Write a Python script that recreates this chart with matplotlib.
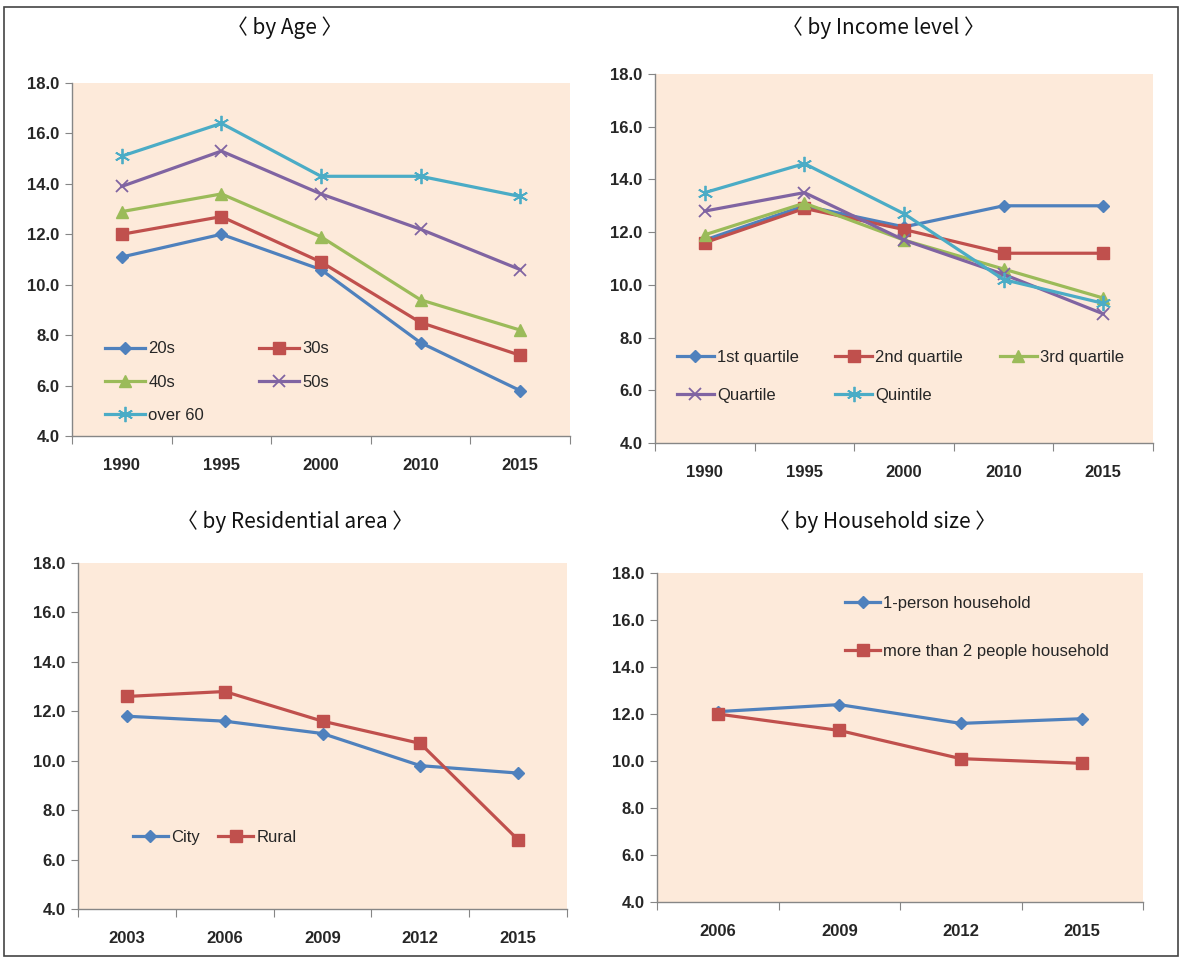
import matplotlib
matplotlib.use("Agg")
from matplotlib import pyplot as plt
from matplotlib.patches import Rectangle

plt.rcParams['font.family'] = ['Liberation Sans', 'DejaVu Sans']

# ---- data ----
AGE_YEARS = ["1990", "1995", "2000", "2010", "2015"]
AGE_20S = [11.1, 12.0, 10.6, 7.7, 5.8]
AGE_30S = [12.0, 12.7, 10.9, 8.5, 7.2]
AGE_40S = [12.9, 13.6, 11.9, 9.4, 8.2]
AGE_50S = [13.9, 15.3, 13.6, 12.2, 10.6]
AGE_60 = [15.1, 16.4, 14.3, 14.3, 13.5]

INC_YEARS = ["1990", "1995", "2000", "2010", "2015"]
INC_Q1 = [11.7, 13.0, 12.2, 13.0, 13.0]
INC_Q2 = [11.6, 12.9, 12.1, 11.2, 11.2]
INC_Q3 = [11.9, 13.1, 11.7, 10.6, 9.5]
INC_QUART = [12.8, 13.5, 11.7, 10.4, 8.9]
INC_QUINT = [13.5, 14.6, 12.7, 10.2, 9.3]

RES_YEARS = ["2003", "2006", "2009", "2012", "2015"]
RES_CITY = [11.8, 11.6, 11.1, 9.8, 9.5]
RES_RURAL = [12.6, 12.8, 11.6, 10.7, 6.8]

HH_YEARS = ["2006", "2009", "2012", "2015"]
HH_ONE = [12.1, 12.4, 11.6, 11.8]
HH_MULTI = [12.0, 11.3, 10.1, 9.9]

BLUE = "#4F81BD"
RED = "#C0504D"
GREEN = "#9BBB59"
PURPLE = "#8064A2"
CYAN = "#4BACC6"
BG = "#FDEADA"
AXC = "#868686"
TXT = "#262626"

fig = plt.figure(figsize=(11.96, 9.59), dpi=100)
W, H = 1196, 959


def make_axes(left, top, right, bottom):
    return fig.add_axes([left / W, 1 - bottom / H, (right - left) / W, (bottom - top) / H])


def style(ax, cats):
    n = len(cats)
    ax.set_facecolor(BG)
    ax.set_xlim(0, n)
    ax.set_ylim(4, 18)
    ax.set_yticks([4, 6, 8, 10, 12, 14, 16, 18])
    ax.set_yticklabels(["%.1f" % v for v in range(4, 19, 2)])
    ax.set_xticks(range(n + 1))
    ax.set_xticklabels([])
    ax.set_xticks([i + 0.5 for i in range(n)], minor=True)
    ax.set_xticklabels(cats, minor=True)
    ax.tick_params(axis="x", which="major", direction="out", length=6, color=AXC)
    ax.tick_params(axis="x", which="minor", length=0, pad=16)
    ax.tick_params(axis="y", direction="out", length=5, color=AXC, pad=4)
    for lab in ax.get_xticklabels(minor=True) + ax.get_yticklabels():
        lab.set_fontweight("bold")
        lab.set_fontsize(12)
        lab.set_color(TXT)
    for s in ["top", "right"]:
        ax.spines[s].set_visible(False)
    for s in ["left", "bottom"]:
        ax.spines[s].set_color(AXC)
        ax.spines[s].set_linewidth(1.0)


def line(ax, vals, color, marker, label, ms=7, mew=1.0):
    x = [i + 0.5 for i in range(len(vals))]
    return ax.plot(x, vals, color=color, lw=2.3, marker=marker, ms=ms,
                   mew=mew, mec=color, mfc=color, label=label)[0]


def legend(ax, handles, anchor, ncol, hl, cs, ls):
    lg = ax.legend(handles=handles, loc="upper left", bbox_to_anchor=anchor,
                   ncol=ncol, frameon=False, fontsize=12, handlelength=hl,
                   handletextpad=0.2, columnspacing=cs, labelspacing=ls,
                   borderpad=0, borderaxespad=0)
    for t in lg.get_texts():
        t.set_color(TXT)
    return lg


ASTER = (6, 2, 0)
title_font = dict(family=["Noto Sans CJK KR", "DejaVu Sans"], fontsize=15, color="#111111",
                  ha="center", va="center")

# ---- by Age ----
ax1 = make_axes(72, 83, 570, 436)
style(ax1, AGE_YEARS)
h20 = line(ax1, AGE_20S, BLUE, "D", "20s", ms=6)
h30 = line(ax1, AGE_30S, RED, "s", "30s", ms=8)
h40 = line(ax1, AGE_40S, GREEN, "^", "40s", ms=8.5)
h50 = line(ax1, AGE_50S, PURPLE, "x", "50s", ms=9, mew=1.3)
h60 = line(ax1, AGE_60, CYAN, ASTER, "over 60", ms=11, mew=1.3)
legend(ax1, [h20, h40, h60, h30, h50], (0.066, 0.268), 2, 2.4, 3.3, 1.1)
fig.text(285 / W, 1 - 28 / H, "〈 by Age 〉", **title_font)

# ---- by Income level ----
ax2 = make_axes(655, 74, 1153, 443)
style(ax2, INC_YEARS)
q1 = line(ax2, INC_Q1, BLUE, "D", "1st quartile", ms=6)
q2 = line(ax2, INC_Q2, RED, "s", "2nd quartile", ms=8)
q3 = line(ax2, INC_Q3, GREEN, "^", "3rd quartile", ms=8.5)
qa = line(ax2, INC_QUART, PURPLE, "x", "Quartile", ms=9, mew=1.3)
qi = line(ax2, INC_QUINT, CYAN, ASTER, "Quintile", ms=11, mew=1.3)
legend(ax2, [q1, qa, q2, qi, q3], (0.044, 0.252), 3, 2.2, 2.2, 1.35)
fig.text(883 / W, 1 - 28 / H, "〈 by Income level 〉", **title_font)

# ---- by Residential area ----
ax3 = make_axes(78, 563, 567, 909)
style(ax3, RES_YEARS)
hc = line(ax3, RES_CITY, BLUE, "D", "City", ms=6)
hr = line(ax3, RES_RURAL, RED, "s", "Rural", ms=8)
legend(ax3, [hc, hr], (0.112, 0.228), 2, 2.1, 1.1, 0.8)
fig.text(295 / W, 1 - 522 / H, "〈 by Residential area 〉", **title_font)

# ---- by Household size ----
ax4 = make_axes(657, 573, 1143, 902)
style(ax4, HH_YEARS)
h1 = line(ax4, HH_ONE, BLUE, "D", "1-person household", ms=6)
h2 = line(ax4, HH_MULTI, RED, "s", "more than 2 people household", ms=8)
legend(ax4, [h1, h2], (0.387, 0.931), 1, 2.1, 1.0, 2.0)
fig.text(883 / W, 1 - 522 / H, "〈 by Household size 〉", **title_font)

# outer frame
fig.patches.append(Rectangle((4 / W, 1 - 956 / H), 1174 / W, 949 / H,
                             transform=fig.transFigure, fill=False,
                             edgecolor="#444444", lw=1.2))

fig.savefig("out.png", dpi=100)
